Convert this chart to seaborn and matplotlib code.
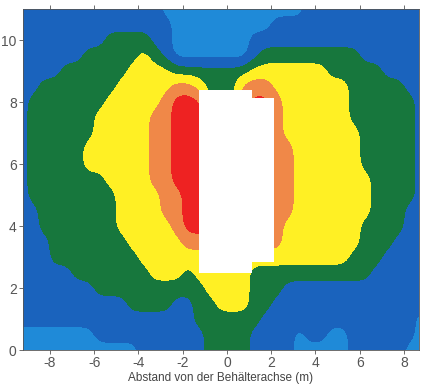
import numpy as np
import matplotlib
matplotlib.use("Agg")
import matplotlib.pyplot as plt
import seaborn as sns
from matplotlib.patches import Rectangle

# grid nodes (m): distance from tank axis and height
x_nodes = np.linspace(-9.25, 8.75, 37)
y_nodes = np.linspace(0, 11, 23)

# level classes, one row per height, top (y=11) to bottom (y=0)
# 0 light blue, 1 blue, 2 green, 3 yellow, 4 orange, 5 red
rows = [
    "1"*13 + "0"*13 + "1"*11,                                               # 11.0
    "1"*14 + "0"*9 + "1"*14,                                                # 10.5
    "1"*8 + "2"*4 + "1"*2 + "0"*7 + "1"*16,                                 # 10.0
    "1"*6 + "2"*5 + "3" + "2" + "1" + "0"*7 + "1" + "2"*9 + "1"*6,           # 9.5
    "1"*4 + "2"*6 + "3"*4 + "2"*7 + "3"*7 + "2"*5 + "1"*4,                  # 9.0
    "1"*2 + "2"*7 + "3"*5 + "4"*2 + "3" + "2"*3 + "4"*3 + "3"*7 + "2"*5 + "1"*2,  # 8.5
    "1" + "2"*7 + "3"*5 + "4" + "5"*3 + "2"*3 + "4" + "5"*2 + "4" + "3"*6 + "2"*6 + "1",  # 8.0
    "1" + "2"*6 + "3"*5 + "4"*2 + "5"*5 + "4"*5 + "3"*6 + "2"*6 + "1",      # 7.5
    "1" + "2"*6 + "3"*5 + "4"*2 + "5"*5 + "4"*5 + "3"*7 + "2"*5 + "1",      # 7.0
    "1" + "2"*5 + "3"*6 + "4"*2 + "5"*5 + "4"*6 + "3"*6 + "2"*5 + "1",      # 6.5
    "1" + "2"*5 + "3"*6 + "4"*2 + "5"*5 + "4"*6 + "3"*6 + "2"*5 + "1",      # 6.0
    "1" + "2"*7 + "3"*4 + "4"*2 + "5"*5 + "4"*6 + "3"*7 + "2"*4 + "1",      # 5.5
    "1" + "2"*8 + "3"*4 + "4"*2 + "5"*4 + "4"*6 + "3"*7 + "2"*4 + "1",      # 5.0
    "1"*2 + "2"*7 + "3"*4 + "4"*2 + "5"*4 + "4"*6 + "3"*7 + "2"*3 + "1"*2,  # 4.5
    "1"*2 + "2"*7 + "3"*5 + "4" + "5"*4 + "4"*5 + "3"*7 + "2"*4 + "1"*2,    # 4.0
    "1"*3 + "2"*7 + "3"*5 + "4"*9 + "3"*7 + "2"*3 + "1"*3,                  # 3.5
    "1"*3 + "2"*8 + "3"*19 + "2"*3 + "1"*4,                                 # 3.0
    "1"*5 + "2"*7 + "3"*3 + "2" + "3"*5 + "2"*11 + "1"*5,                   # 2.5
    "1"*7 + "2"*10 + "3"*4 + "2"*3 + "1"*13,                                # 2.0
    "1"*10 + "2"*4 + "1"*2 + "2"*2 + "3"*3 + "2"*2 + "1"*14,                # 1.5
    "1"*16 + "2"*6 + "1"*14 + "0",                                          # 1.0
    "0"*7 + "1"*10 + "2"*4 + "1"*4 + "0" + "1"*2 + "0"*2 + "1"*6 + "0",     # 0.5
    "0"*11 + "1"*6 + "2"*4 + "1"*4 + "0"*5 + "1"*5 + "0"*2,                 # 0.0
]

level_colors = ["#1f8ad8", "#1a63bd", "#17773d", "#fff024", "#f08848", "#ee2222"]

# white tank cut-outs
tank_left = [-1.27, -1.27]
tank_bottom = [2.48, 2.83]
tank_width = [2.41, 3.41]
tank_height = [5.91, 5.30]

field = np.array([[int(c) for c in r] for r in rows[::-1]], dtype=float)

# refine the grid and soften the cell edges so the bands look like the scanned contours
xf = np.linspace(x_nodes[0], x_nodes[-1], 361)
yf = np.linspace(y_nodes[0], y_nodes[-1], 221)
tmp = np.array([np.interp(xf, x_nodes, r) for r in field])
fine = np.array([np.interp(yf, y_nodes, c) for c in tmp.T]).T

def soften(a, axis, sig):
    r = int(3 * sig)
    k = np.exp(-0.5 * (np.arange(-r, r + 1) / sig) ** 2)
    k /= k.sum()
    return np.apply_along_axis(lambda v: np.convolve(np.pad(v, r, mode="edge"), k, mode="valid"), axis, a)

fine = soften(soften(fine, 1, 4.5), 0, 4.5)

sns.set_style("ticks")
plt.rcParams['font.family'] = ['Liberation Sans', 'DejaVu Sans']
plt.rcParams['axes.unicode_minus'] = False

fig = plt.figure(figsize=(4.21, 3.87), dpi=100)
ax = fig.add_axes([0.0546, 0.0956, 0.9406, 0.881])

ax.contourf(xf, yf, fine, levels=np.arange(-0.5, 6, 1), colors=level_colors)

for l, b, w, h in zip(tank_left, tank_bottom, tank_width, tank_height):
    ax.add_patch(Rectangle((l, b), w, h, facecolor="white", edgecolor="none", zorder=3))

ax.set_xlim(-9.22, 8.68)
ax.set_ylim(0, 11)
ax.set_xticks(range(-8, 9, 2))
ax.set_yticks(range(0, 11, 2))
ax.tick_params(direction="out", length=3, width=0.6, colors="#555555", labelsize=10,
               top=True, pad=1.5)
for s in ax.spines.values():
    s.set_linewidth(0.6)
    s.set_color("#555555")
ax.set_xlabel("Abstand von der Behälterachse (m)", fontsize=8.5, color="#444444", labelpad=1)

fig.savefig("out.png", dpi=100)
